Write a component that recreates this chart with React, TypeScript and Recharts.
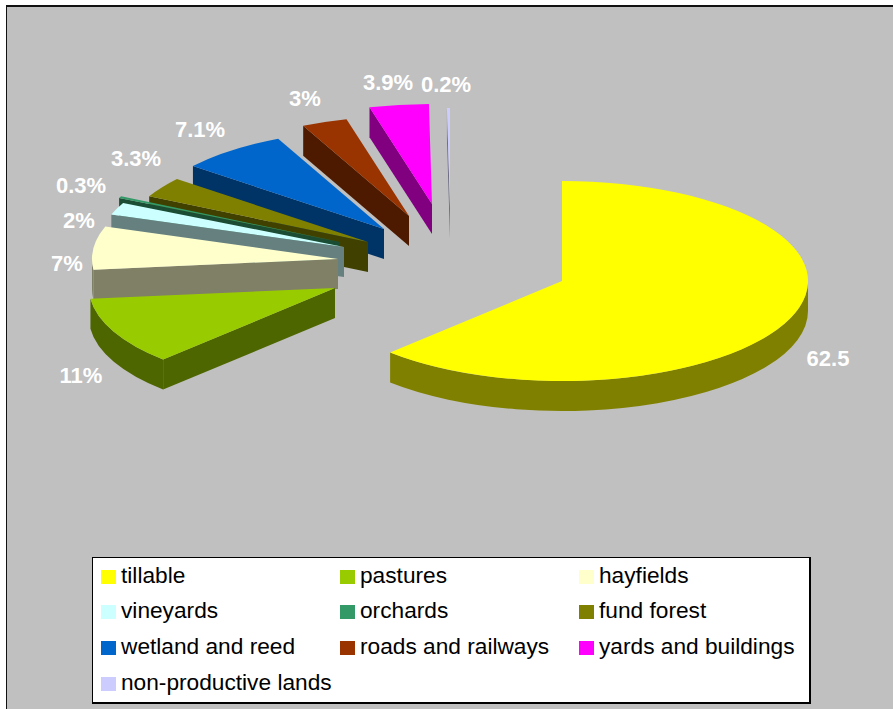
import { PieChart, Pie, Legend } from 'recharts';

const CATEGORIES = [
  'tillable', 'pastures', 'hayfields', 'vineyards', 'orchards',
  'fund forest', 'wetland and reed', 'roads and railways', 'yards and buildings', 'non-productive lands',
];
const VALUES = [62.5, 11, 7, 2, 0.3, 3.3, 7.1, 3, 3.9, 0.2];
const LABELS = ['62.5', '11%', '7%', '2%', '0.3%', '3.3%', '7.1%', '3%', '3.9%', '0.2%'];
const COLORS = [
  '#FFFF00', '#99CC00', '#FFFFCC', '#CCFFFF', '#339966',
  '#808000', '#0066CC', '#993300', '#FF00FF', '#CCCCFF',
];

// pie centre and 3d look
const CX = 450;
const CY = 240;
const RADIUS = 246;
const TILT = 100 / 246;
const DEPTH = 30;

// how far each slice was dragged out of the pie, by hand in the original
const EXPLODE_X = [112, -115, -112, -106, -110, -82, -66, -41, -18, 0];
const EXPLODE_Y = [41, 48, 19, 7, 2, 2, -11, -24, -36, -32];

// label centres relative to the pie centre
const LABEL_X = [378, -369, -383, -371, -369, -314, -250, -145, -62, -4];
const LABEL_Y = [118, 135, 23, -20, -55, -82, -111, -142, -158, -156];

// drawn back to front, so the pie runs counter-clockwise over the reversed rows
const rows = CATEGORIES.map((name, i) => ({
  name,
  value: VALUES[i],
  label: LABELS[i],
  fill: COLORS[i],
  dx: EXPLODE_X[i],
  dy: EXPLODE_Y[i],
  lx: LABEL_X[i],
  ly: LABEL_Y[i],
})).reverse();

function darken(hex: string) {
  const n = parseInt(hex.slice(1), 16);
  const half = (v: number) => Math.round(v / 2);
  return `rgb(${half((n >> 16) & 255)},${half((n >> 8) & 255)},${half(n & 255)})`;
}

function Slice3D(props: any) {
  const { cx, cy, outerRadius: r, startAngle: s, endAngle: e, payload } = props;
  const row = payload.payload ?? payload;
  const ox = cx + row.dx;
  const oy = cy + row.dy;
  const ry = r * TILT;
  const px = (a: number) => ox + r * Math.cos((a * Math.PI) / 180);
  const py = (a: number) => oy - ry * Math.sin((a * Math.PI) / 180);
  const large = e - s > 180 ? 1 : 0;
  const wall = darken(row.fill);

  const radialWall = (a: number) =>
    `M${ox},${oy} L${px(a)},${py(a)} L${px(a)},${py(a) + DEPTH} L${ox},${oy + DEPTH} Z`;

  const rimFrom = Math.max(s, 180);
  const rimTo = Math.min(e, 360);
  const rimLarge = rimTo - rimFrom > 180 ? 1 : 0;

  return (
    <g>
      {Math.cos((e * Math.PI) / 180) < -1e-6 && <path d={radialWall(e)} fill={wall} />}
      {Math.cos((s * Math.PI) / 180) > 1e-6 && <path d={radialWall(s)} fill={wall} />}
      {rimTo > rimFrom && (
        <path
          d={`M${px(rimFrom)},${py(rimFrom)} A${r},${ry} 0 ${rimLarge} 0 ${px(rimTo)},${py(rimTo)}
              L${px(rimTo)},${py(rimTo) + DEPTH} A${r},${ry} 0 ${rimLarge} 1 ${px(rimFrom)},${py(rimFrom) + DEPTH} Z`}
          fill={wall}
        />
      )}
      <path
        d={`M${ox},${oy} L${px(s)},${py(s)} A${r},${ry} 0 ${large} 0 ${px(e)},${py(e)} Z`}
        fill={row.fill}
      />
    </g>
  );
}

function SliceLabel(props: any) {
  const { cx, cy, payload } = props;
  const row = payload.payload ?? payload;
  return (
    <text
      x={cx + row.lx}
      y={cy + row.ly}
      textAnchor="middle"
      dominantBaseline="central"
      fill="#FFFFFF"
      fontFamily="Liberation Sans"
      fontWeight="bold"
      fontSize={22}
    >
      {row.label}
    </text>
  );
}

function LegendBox() {
  return (
    <div
      style={{
        boxSizing: 'border-box',
        width: 719,
        height: 147,
        background: '#FFFFFF',
        border: '1px solid #000',
        borderRightWidth: 2,
        borderBottomWidth: 2,
        position: 'relative',
        fontFamily: 'Liberation Sans',
        fontSize: 22.7,
        color: '#000',
      }}
    >
      {CATEGORIES.map((name, i) => (
        <div
          key={name}
          style={{
            position: 'absolute',
            left: 8 + (i % 3) * 239,
            top: 7 + Math.floor(i / 3) * 35.7,
            height: 20,
            display: 'flex',
            alignItems: 'center',
            whiteSpace: 'nowrap',
          }}
        >
          <span style={{ width: 15, height: 14, marginRight: 5, marginTop: 3, background: COLORS[i], flex: 'none' }} />
          {name}
        </div>
      ))}
    </div>
  );
}

export default function App() {
  return (
    <div style={{ position: 'absolute', left: 0, top: 0, width: 893, height: 709, overflow: 'hidden', background: '#FFFFFF' }}>
      <div
        style={{
          position: 'absolute',
          left: 6,
          top: 5,
          width: 887,
          height: 704,
          background: '#C0C0C0',
          borderLeft: '1.5px solid #111',
          borderTop: '2px solid #111',
          boxSizing: 'border-box',
        }}
      />
      <div style={{ position: 'absolute', left: 0, top: 0 }}>
        <PieChart width={893} height={709} margin={{ top: 0, right: 0, bottom: 0, left: 0 }}>
          <Pie
            data={rows}
            dataKey="value"
            nameKey="name"
            cx={CX}
            cy={CY}
            innerRadius={0}
            outerRadius={RADIUS}
            startAngle={90}
            endAngle={450}
            stroke="none"
            shape={Slice3D}
            label={SliceLabel}
            labelLine={false}
            isAnimationActive={false}
          />
          <Legend
            content={() => <LegendBox />}
            wrapperStyle={{ position: 'absolute', left: 92, top: 557, width: 719, height: 147, bottom: 'auto' }}
          />
        </PieChart>
      </div>
    </div>
  );
}
